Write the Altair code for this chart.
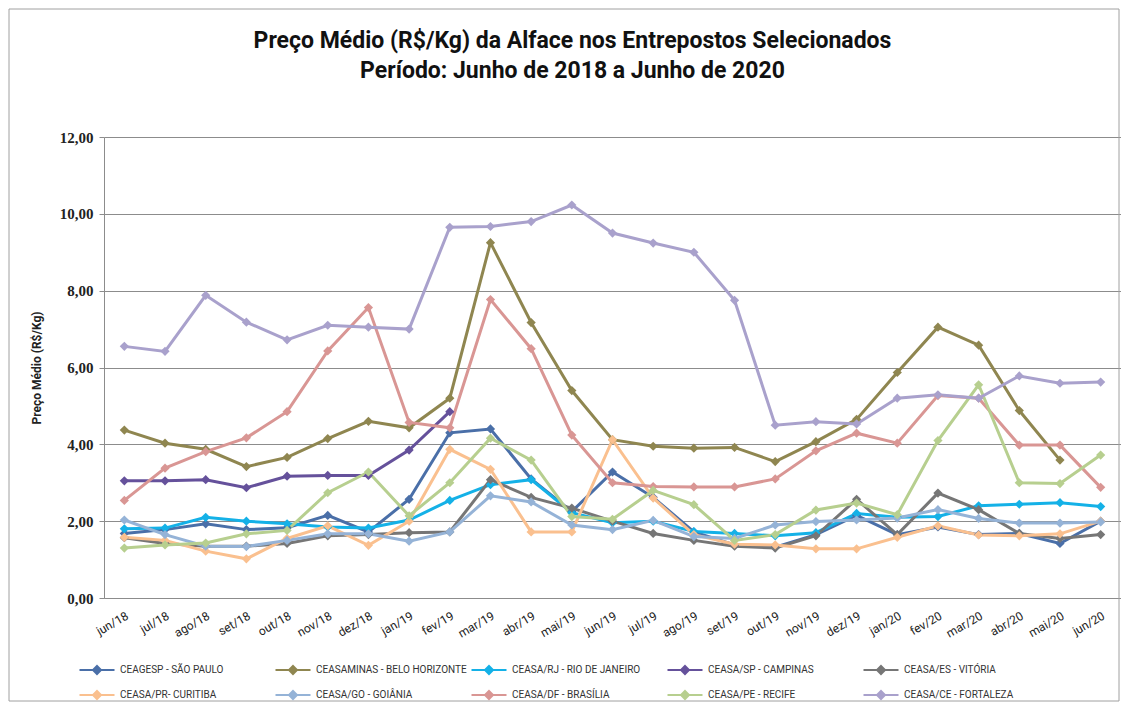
import altair as alt
import pandas as pd

months = ["jun/18", "jul/18", "ago/18", "set/18", "out/18", "nov/18", "dez/18",
          "jan/19", "fev/19", "mar/19", "abr/19", "mai/19", "jun/19", "jul/19",
          "ago/19", "set/19", "out/19", "nov/19", "dez/19", "jan/20", "fev/20",
          "mar/20", "abr/20", "mai/20", "jun/20"]

series_names = ["CEAGESP - SÃO PAULO", "CEASAMINAS - BELO HORIZONTE",
                "CEASA/RJ - RIO DE JANEIRO", "CEASA/SP - CAMPINAS",
                "CEASA/ES - VITÓRIA", "CEASA/PR- CURITIBA", "CEASA/GO - GOIÂNIA",
                "CEASA/DF - BRASÍLIA", "CEASA/PE - RECIFE", "CEASA/CE - FORTALEZA"]

colors = ["#4A6FA8", "#8F8650", "#14B1E7", "#65519B", "#767676",
          "#FAC08F", "#95B3D7", "#D99694", "#B7CF8F", "#A9A1CC"]

sao_paulo = [1.68, 1.78, 1.93, 1.78, 1.83, 2.15, 1.72, 2.57, 4.30, 4.40, 3.10, 2.25,
             3.28, 2.62, 1.72, 1.38, 1.32, 1.65, 2.15, 1.65, 1.85, 1.65, 1.68, 1.42, 2.00]
belo_horizonte = [4.37, 4.03, 3.87, 3.42, 3.66, 4.15, 4.60, 4.43, 5.20, 9.25, 7.17, 5.40,
                  4.12, 3.95, 3.90, 3.92, 3.55, 4.07, 4.65, 5.87, 7.05, 6.58, 4.88, 3.59, None]
rio_de_janeiro = [1.80, 1.82, 2.10, 2.00, 1.93, 1.85, 1.82, 2.03, 2.54, 2.95, 3.08, 2.22,
                  1.96, 2.00, 1.73, 1.68, 1.62, 1.70, 2.20, 2.10, 2.12, 2.40, 2.44, 2.48, 2.38]
campinas = [3.05, 3.05, 3.08, 2.87, 3.17, 3.19, 3.19, 3.85, 4.85, None, None, None,
            None, None, None, None, None, None, None, None, None, None, None, None, None]
vitoria = [1.57, 1.42, 1.35, 1.35, 1.42, 1.62, 1.65, 1.70, 1.72, 3.08, 2.62, 2.34,
           2.00, 1.68, 1.50, 1.35, 1.30, 1.62, 2.57, 1.65, 2.73, 2.30, 1.68, 1.55, 1.65]
curitiba = [1.58, 1.50, 1.22, 1.02, 1.55, 1.88, 1.37, 2.00, 3.87, 3.35, 1.72, 1.72,
            4.12, 2.60, 1.65, 1.40, 1.38, 1.28, 1.28, 1.58, 1.88, 1.64, 1.62, 1.67, 2.00]
goiania = [2.03, 1.65, 1.35, 1.34, 1.50, 1.67, 1.67, 1.48, 1.72, 2.66, 2.50, 1.90,
           1.78, 2.02, 1.60, 1.55, 1.90, 1.99, 2.03, 2.08, 2.30, 2.07, 1.95, 1.95, 1.98]
brasilia = [2.54, 3.38, 3.81, 4.17, 4.85, 6.43, 7.56, 4.57, 4.43, 7.77, 6.49, 4.24,
            3.00, 2.90, 2.89, 2.89, 3.10, 3.83, 4.29, 4.03, 5.27, 5.20, 3.98, 3.98, 2.88]
recife = [1.30, 1.38, 1.43, 1.67, 1.76, 2.74, 3.28, 2.14, 3.00, 4.16, 3.59, 2.12,
          2.05, 2.80, 2.43, 1.50, 1.65, 2.29, 2.47, 2.17, 4.10, 5.55, 3.00, 2.98, 3.72]
fortaleza = [6.55, 6.42, 7.88, 7.18, 6.72, 7.10, 7.05, 7.00, 9.65, 9.67, 9.80, 10.23,
             9.50, 9.24, 9.00, 7.75, 4.50, 4.59, 4.53, 5.20, 5.29, 5.20, 5.78, 5.59, 5.62]

all_series = [sao_paulo, belo_horizonte, rio_de_janeiro, campinas, vitoria,
              curitiba, goiania, brasilia, recife, fortaleza]

rows = []
for k, (name, vals) in enumerate(zip(series_names, all_series)):
    for m, v in zip(months, vals):
        if v is not None:
            rows.append({"mes": m, "serie": name, "preco": v, "ordem": k})
df = pd.DataFrame(rows)

FONT = "Roboto, Liberation Sans, sans-serif"

x = alt.X("mes:O", sort=months,
          scale=alt.Scale(type="point", padding=0.5),
          axis=alt.Axis(title=None, labelAngle=-30, labelAlign="right",
                        labelBaseline="top", labelPadding=12, labelFont=FONT,
                        labelFontSize=12, labelColor="#222222", domainColor="#8C8C8C",
                        ticks=False, grid=False))
y = alt.Y("preco:Q", scale=alt.Scale(domain=[0, 12], nice=False),
          axis=alt.Axis(values=[0, 2, 4, 6, 8, 10, 12],
                        labelExpr="replace(format(datum.value, '.2f'), '.', ',')",
                        labelFont="Liberation Serif, DejaVu Serif, serif",
                        labelFontSize=15, labelFontWeight="bold", labelColor="#222222",
                        labelPadding=6, tickSize=5, tickColor="#8C8C8C",
                        domainColor="#8C8C8C", gridColor="#8C8C8C", gridWidth=1,
                        title="Preço Médio (R$/Kg)", titleFont=FONT, titleFontSize=12,
                        titleFontWeight="bold", titleColor="#222222", titleX=-61))
color = alt.Color("serie:N", sort=series_names,
                  scale=alt.Scale(domain=series_names, range=colors),
                  legend=alt.Legend(title=None, orient="none", legendX=-13, legendY=527,
                                    direction="horizontal", columns=5, gridAlign="all",
                                    columnPadding=0, rowPadding=9,
                                    symbolType="M-3.5,0L3.5,0M0,-0.8L0.8,0L0,0.8L-0.8,0Z",
                                    symbolSize=100, symbolStrokeWidth=2,
                                    labelFont=FONT, labelFontSize=10, labelColor="#333333",
                                    labelOffset=17, labelLimit=260))

base = alt.Chart(df)
lines = base.mark_line(strokeWidth=3).encode(x=x, y=y, color=color, detail="serie:N")
points = base.mark_point(shape="diamond", filled=True, size=85, opacity=1).encode(
    x=x, y=y, color=color)

frame = alt.Chart(pd.DataFrame({"a": [0]})).mark_rect(
    fill="transparent", stroke="#A0A0A0", strokeWidth=1, clip=False).encode(
    x=alt.value(-95), x2=alt.value(1015), y=alt.value(-128), y2=alt.value(564))

chart = alt.layer(frame, lines, points).properties(
    width=1017, height=461,
    padding={"left": 96, "top": 129, "right": 0, "bottom": 104},
    autosize=alt.AutoSizeParams(type="none"),
    title=alt.TitleParams(
        ["Preço Médio (R$/Kg) da Alface nos Entrepostos Selecionados",
         "Período: Junho de 2018 a Junho de 2020"],
        anchor="middle", frame="group", dx=-40, offset=-74, fontSize=23, lineHeight=30,
        font=FONT, fontWeight="bold", color="#111111"),
).configure_view(stroke=None)

chart.save("out.html", embed_options={"renderer": "svg", "actions": False})
